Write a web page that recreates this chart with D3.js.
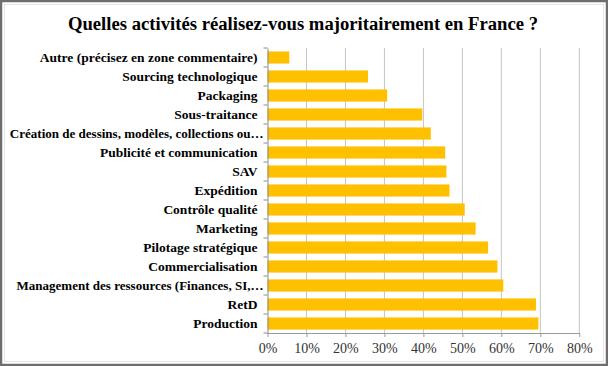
<!DOCTYPE html>
<html><head><meta charset="utf-8">
<script src="https://cdn.jsdelivr.net/npm/d3@7"></script>
<style>html,body{margin:0;padding:0;background:#fff;}svg{display:block;}</style>
</head><body>
<script>
const categories = [
  "Autre (précisez en zone commentaire)",
  "Sourcing technologique",
  "Packaging",
  "Sous-traitance",
  "Création de dessins, modèles, collections ou…",
  "Publicité et communication",
  "SAV",
  "Expédition",
  "Contrôle qualité",
  "Marketing",
  "Pilotage stratégique",
  "Commercialisation",
  "Management des ressources (Finances, SI,…",
  "RetD",
  "Production"
];
const values = [0.056, 0.258, 0.307, 0.397, 0.419, 0.456, 0.459, 0.467, 0.506, 0.534, 0.566, 0.590, 0.605, 0.689, 0.695];
const tickValues = [0, 0.1, 0.2, 0.3, 0.4, 0.5, 0.6, 0.7, 0.8];
const title = "Quelles activités réalisez-vous majoritairement en France ?";

const FONT = "'Liberation Serif', 'Times New Roman', serif";
const W = 608, H = 366;
const svg = d3.select("body").append("svg").attr("width", W).attr("height", H);
svg.append("rect").attr("x", 0).attr("y", 0).attr("width", W).attr("height", H).attr("fill", "#fff");
// outer frame
svg.append("rect").attr("x", 1).attr("y", 1).attr("width", W - 2).attr("height", H - 2)
  .attr("fill", "none").attr("stroke", "#6e6e6e").attr("stroke-width", 2.5);
svg.append("rect").attr("x", 4.5).attr("y", 4.5).attr("width", W - 9).attr("height", H - 9)
  .attr("fill", "none").attr("stroke", "#e4e4e4").attr("stroke-width", 1);

svg.append("text").attr("x", 303).attr("y", 30).attr("text-anchor", "middle")
  .attr("font-family", FONT)
  .attr("font-weight", "bold").attr("font-size", 18.67).attr("fill", "#000").text(title);

const x0 = 267.5, x1 = 579.3, yTop = 48, yBot = 333;
const x = d3.scaleLinear().domain([0, 0.8]).range([x0, x1]);
const y = d3.scaleBand().domain(categories).range([yTop, yBot]).paddingInner(0.36).paddingOuter(0.18);

// gridlines
svg.append("g").selectAll("line").data(tickValues.slice(1)).join("line")
  .attr("x1", d => x(d)).attr("x2", d => x(d)).attr("y1", yTop).attr("y2", yBot)
  .attr("stroke", "#c4c4c4").attr("stroke-width", 1);

// bars
svg.append("g").selectAll("rect").data(values).join("rect")
  .attr("x", x(0)).attr("y", (d, i) => y(categories[i]))
  .attr("width", d => x(d) - x(0)).attr("height", y.bandwidth())
  .attr("fill", "#FFC000");

// x axis
const xAxis = d3.axisBottom(x).tickValues(tickValues).tickFormat(d3.format(".0%")).tickSize(4).tickSizeOuter(0);
const gx = svg.append("g").attr("transform", `translate(0,${yBot})`).call(xAxis);
gx.select(".domain").attr("stroke", "#9a9a9a");
gx.selectAll(".tick line").attr("stroke", "#9a9a9a");
gx.selectAll("text").attr("font-family", FONT)
  .attr("font-size", 14).attr("fill", "#333").attr("dy", "0.95em");

// y axis
const yAxis = d3.axisLeft(y).tickSize(0).tickPadding(10);
const gy = svg.append("g").attr("transform", `translate(${x0},0)`).call(yAxis);
gy.select(".domain").attr("stroke", "#8a8a8a");
gy.selectAll("text").attr("font-family", FONT)
  .attr("font-weight", "bold").attr("font-size", 13.5).attr("fill", "#000")
  .each(function (d) {
    if (d.endsWith("…")) {
      const len = this.getComputedTextLength();
      d3.select(this).attr("x", -4).attr("textLength", len * 0.965).attr("lengthAdjust", "spacingAndGlyphs");
    }
  });
// category boundary ticks
svg.append("g").selectAll("line").data(d3.range(categories.length + 1)).join("line")
  .attr("x1", x0 - 4).attr("x2", x0)
  .attr("y1", i => yTop + i * (yBot - yTop) / categories.length)
  .attr("y2", i => yTop + i * (yBot - yTop) / categories.length)
  .attr("stroke", "#8a8a8a");
</script>
</body></html>
